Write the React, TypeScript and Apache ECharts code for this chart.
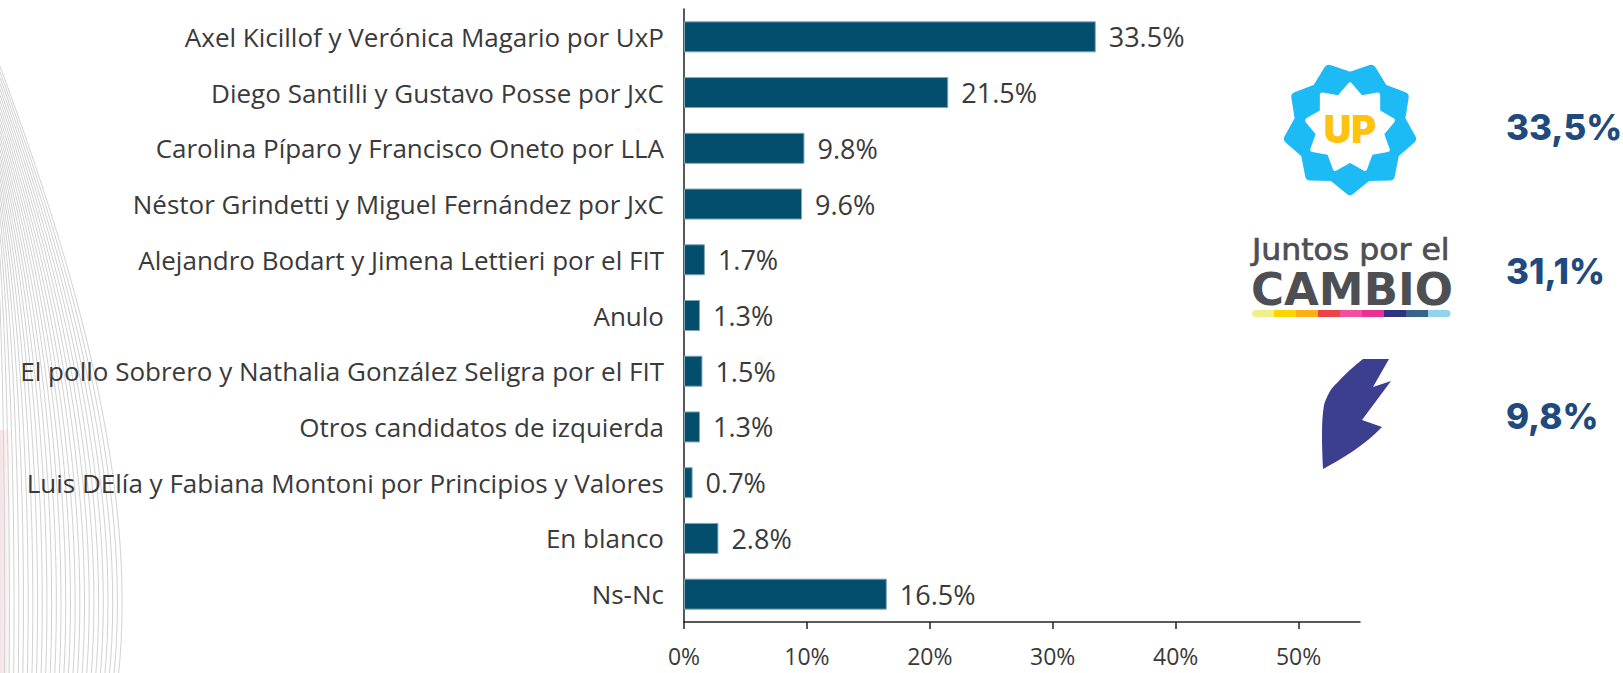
import React, { useEffect, useRef } from 'react';
import * as echarts from 'echarts';

const categories = [
  'Axel Kicillof y Verónica Magario por UxP',
  'Diego Santilli y Gustavo Posse por JxC',
  'Carolina Píparo y Francisco Oneto por LLA',
  'Néstor Grindetti y Miguel Fernández por JxC',
  'Alejandro Bodart y Jimena Lettieri por el FIT',
  'Anulo',
  'El pollo Sobrero y Nathalia González Seligra por el FIT',
  'Otros candidatos de izquierda',
  'Luis DElía y Fabiana Montoni por Principios y Valores',
  'En blanco',
  'Ns-Nc',
];
const values = [33.5, 21.5, 9.8, 9.6, 1.7, 1.3, 1.5, 1.3, 0.7, 2.8, 16.5];
const xTickValues = [0, 10, 20, 30, 40, 50];
const partyShares = ['33,5%', '31,1%', '9,8%'];
const jxcStripe = ['#EEF08A', '#FFD400', '#FBB116', '#EC4446', '#F0509C', '#E8338E', '#2E3383', '#3A6389', '#92D3EE'];

const wingPath =
  'M 43 2 L 69 2 L 53 30 L 71 24 L 42 63 L 62 70 C 45 88 22 102 3 112 C 2 90 1 65 4 48 C 7 38 12 30 17 26 C 25 17 34 9 43 2 Z';
echarts.graphic.registerShape('llaWing', echarts.graphic.extendPath(wingPath, {}) as any);

function starPoints(cx: number, cy: number, n: number, rOut: number, rIn: number, startDeg: number) {
  const pts: number[][] = [];
  for (let k = 0; k < n * 2; k++) {
    const a = ((startDeg + (k * 180) / n) * Math.PI) / 180;
    const r = k % 2 === 0 ? rOut : rIn;
    pts.push([cx + r * Math.cos(a), cy + r * Math.sin(a)]);
  }
  return pts;
}

function bgLines() {
  const out: any[] = [];
  const N = 26;
  for (let i = 0; i < N; i++) {
    const f = (i + 1) / N;
    out.push({
      type: 'bezierCurve',
      z: -10,
      silent: true,
      shape: {
        x1: -10,
        y1: 40 + (1 - f) * 140,
        cpx1: f * 70,
        cpy1: 250,
        cpx2: f * 140,
        cpy2: 480,
        x2: f * 118,
        y2: 680,
      },
      style: { stroke: '#d2d2d2', lineWidth: 1, fill: null },
    });
  }
  out.push({
    type: 'rect',
    z: -11,
    silent: true,
    shape: { x: 0, y: 430, width: 12, height: 243 },
    style: {
      fill: new echarts.graphic.LinearGradient(0, 0, 1, 0, [
        { offset: 0, color: 'rgba(225,170,185,0.35)' },
        { offset: 1, color: 'rgba(225,170,185,0)' },
      ]),
    },
  });
  return out;
}

export default function App() {
  const ref = useRef<HTMLDivElement>(null);
  useEffect(() => {
    if (!ref.current) return;
    const chart = echarts.init(ref.current, null, { renderer: 'svg' });
    const labelFont = '"Open Sans", "Noto Sans", sans-serif';
    const shareY = [127, 271, 416];

    const stripeW = 198 / jxcStripe.length;
    const stripe = jxcStripe.map((c, i) => ({
      type: 'rect',
      shape: {
        x: 1252 + i * stripeW,
        y: 310,
        width: stripeW + 0.5,
        height: 7,
        r: i === 0 ? [3.5, 0, 0, 3.5] : i === jxcStripe.length - 1 ? [0, 3.5, 3.5, 0] : 0,
      },
      style: { fill: c },
    }));

    chart.setOption({
      animation: false,
      backgroundColor: '#ffffff',
      grid: { left: 684, right: 263, top: 9, bottom: 51, containLabel: false },
      xAxis: {
        type: 'value',
        min: 0,
        max: 55,
        interval: 10,
        axisLine: { show: true, lineStyle: { color: '#222', width: 1.5 } },
        axisTick: { show: true, length: 7, customValues: xTickValues, lineStyle: { color: '#222', width: 1.5 } },
        splitLine: { show: false },
        axisLabel: {
          customValues: xTickValues,
          formatter: (v: number) => `${v}%`,
          fontSize: 23,
          lineHeight: 23,
          color: '#3a3a3a',
          fontFamily: labelFont,
          margin: 22,
        },
      },
      yAxis: {
        type: 'category',
        data: categories,
        inverse: true,
        axisLine: { show: true, lineStyle: { color: '#222', width: 1.5 } },
        axisTick: { show: false },
        axisLabel: { fontSize: 26, color: '#3a3a3a', fontFamily: labelFont, margin: 20 },
      },
      series: [
        {
          type: 'bar',
          data: values,
          barWidth: 31,
          itemStyle: { color: '#034E6C', borderColor: '#7FA4B6', borderWidth: 1 },
          label: {
            show: true,
            position: 'right',
            distance: 13,
            formatter: (p: any) => `${Number(p.value).toFixed(1)}%`,
            fontSize: 27,
            color: '#3a3a3a',
            fontFamily: labelFont,
          },
        },
      ],
      graphic: [
        ...bgLines(),
        // UP logo
        {
          type: 'polygon',
          shape: { points: starPoints(1350, 128, 9, 62, 51, 90) },
          style: { fill: '#1CBBF5', stroke: '#1CBBF5', lineWidth: 10, lineJoin: 'round' },
        },
        {
          type: 'polygon',
          shape: { points: starPoints(1350, 128, 9, 43, 32, 270) },
          style: { fill: '#ffffff', stroke: '#ffffff', lineWidth: 5, lineJoin: 'round' },
        },
        {
          type: 'text',
          x: 1350,
          y: 129,
          style: {
            text: 'UP',
            fill: '#FFC20E',
            font: '900 38px Inter, "DejaVu Sans", sans-serif',
            align: 'center',
            verticalAlign: 'middle',
          },
        },
        // JxC logo
        {
          type: 'text',
          x: 1252,
          y: 249,
          scaleX: 1.05,
          style: {
            text: 'Juntos por el',
            fill: '#4D4F53',
            stroke: '#4D4F53',
            lineWidth: 0.7,
            font: '30px "DejaVu Sans", sans-serif',
            align: 'left',
            verticalAlign: 'middle',
          },
        },
        {
          type: 'text',
          x: 1251,
          y: 289,
          style: {
            text: 'CAMBIO',
            fill: '#4D4F53',
            font: 'bold 45px "DejaVu Sans", sans-serif',
            align: 'left',
            verticalAlign: 'middle',
          },
        },
        ...stripe,
        // LLA wing
        {
          type: 'llaWing',
          x: 1320,
          y: 357,
          style: { fill: '#3C3F8F' },
        },
        // Shares
        ...partyShares.map((s, i) => ({
          type: 'text',
          x: 1506,
          y: shareY[i],
          style: {
            text: s,
            fill: '#1F4A7E',
            font: '800 35px Inter, "DejaVu Sans", sans-serif',
            align: 'left',
            verticalAlign: 'middle',
          },
        })),
      ],
    });
    return () => chart.dispose();
  }, []);
  return (
    <div
      ref={ref}
      style={{ position: 'absolute', left: 0, top: 0, width: 1623, height: 673 }}
    />
  );
}
